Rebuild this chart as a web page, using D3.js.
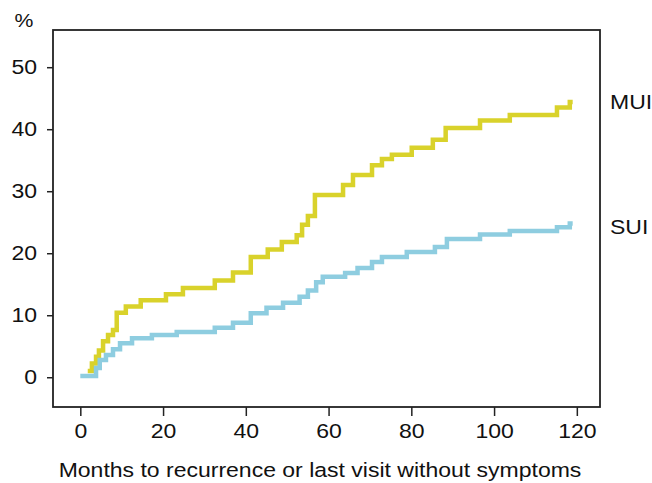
<!DOCTYPE html>
<html>
<head>
<meta charset="utf-8">
<script src="https://cdn.jsdelivr.net/npm/d3@7"></script>
<style>
  body { margin: 0; background: #fff; }
  svg text { font-family: "Liberation Sans", Arial, sans-serif; fill: #111; }
</style>
</head>
<body>
<svg id="chart"></svg>
<script>
// Step times (months) and cumulative recurrence (%) for each group
const muiMonths = [1.8, 2.8, 3.8, 4.5, 5.5, 6.7, 7.9, 8.8, 11.0, 14.6, 20.7, 24.8, 32.5, 36.9, 41.2, 45.3, 48.7, 52.3, 53.6, 55.0, 56.7, 63.5, 65.9, 70.5, 72.9, 75.3, 80.1, 85.2, 88.3, 96.6, 103.8, 115.2, 118.3, 119.0];
const muiValues = [1.0, 2.2, 3.3, 4.3, 5.8, 6.8, 7.6, 10.4, 11.4, 12.4, 13.4, 14.4, 15.6, 16.9, 19.4, 20.6, 21.8, 22.9, 24.6, 26.0, 29.4, 31.0, 32.6, 34.2, 35.2, 35.9, 37.0, 38.3, 40.2, 41.4, 42.3, 43.5, 44.4, 44.4];

const suiMonths = [0, 3.8, 4.7, 6.2, 7.9, 9.6, 12.5, 17.3, 23.3, 32.5, 36.9, 41.2, 45.0, 49.0, 53.0, 55.0, 57.0, 58.6, 64.0, 67.0, 70.5, 72.9, 78.9, 85.7, 88.6, 96.6, 103.8, 115.2, 118.3, 119.0];
const suiValues = [0.2, 1.5, 2.8, 3.6, 4.5, 5.5, 6.3, 6.8, 7.3, 8.0, 8.8, 10.3, 11.2, 12.0, 13.0, 14.0, 15.3, 16.2, 16.8, 17.6, 18.6, 19.4, 20.2, 21.0, 22.3, 23.0, 23.6, 24.2, 24.8, 24.8];

const xTicks = [0, 20, 40, 60, 80, 100, 120];
const yTicks = [0, 10, 20, 30, 40, 50];

const series = [
  { name: "MUI", months: muiMonths, values: muiValues, color: "#d9d22b" },
  { name: "SUI", months: suiMonths, values: suiValues, color: "#8ecde0" }
];

const width = 652;
const height = 483;
const margin = { top: 30, right: 52, bottom: 76, left: 53 };
const fontSize = "19.5px";
const stretch = 1.18; // the lettering in the original is set wide

const svg = d3.select("#chart")
  .attr("width", width)
  .attr("height", height);

const xScale = d3.scaleLinear()
  .domain([-6.6, 125.6])
  .range([margin.left, width - margin.right]);

const yScale = d3.scaleLinear()
  .domain([-4.8, 56])
  .range([height - margin.bottom, margin.top]);

// Step curves
const line = d3.line()
  .x(d => xScale(d[0]))
  .y(d => yScale(d[1]))
  .curve(d3.curveStepAfter);

series.forEach(function(s) {
  const pts = s.months.map((m, i) => [m, s.values[i]]);
  svg.append("path")
    .datum(pts)
    .attr("fill", "none")
    .attr("stroke", s.color)
    .attr("stroke-width", 4.5)
    .attr("d", line);
});

// Plot frame
svg.append("rect")
  .attr("x", margin.left)
  .attr("y", margin.top)
  .attr("width", width - margin.left - margin.right)
  .attr("height", height - margin.top - margin.bottom)
  .attr("fill", "none")
  .attr("stroke", "#222")
  .attr("stroke-width", 1.8);

// x-axis
const xAxis = svg.append("g")
  .attr("transform", `translate(0,${height - margin.bottom})`)
  .call(d3.axisBottom(xScale).tickValues(xTicks).tickSize(9).tickPadding(8));
xAxis.select(".domain").remove();
xAxis.selectAll("line").attr("stroke", "#222").attr("stroke-width", 1.5);
xAxis.selectAll("text")
  .attr("font-family", null)
  .style("font-size", fontSize)
  .attr("transform", `scale(${stretch},1)`);

// y-axis
const yAxis = svg.append("g")
  .attr("transform", `translate(${margin.left},0)`)
  .call(d3.axisLeft(yScale).tickValues(yTicks).tickSize(6).tickPadding(10));
yAxis.select(".domain").remove();
yAxis.selectAll("line").attr("stroke", "#222").attr("stroke-width", 1.5);
yAxis.selectAll("text")
  .attr("font-family", null)
  .attr("x", 0)
  .style("font-size", fontSize)
  .attr("transform", `translate(-16,0) scale(${stretch},1)`);

// Unit label
svg.append("text")
  .attr("transform", `translate(24,27) scale(${stretch},1)`)
  .attr("text-anchor", "middle")
  .style("font-size", "18px")
  .text("%");

// Series labels at the right
svg.append("text")
  .attr("transform", `translate(610,${yScale(44.4) + 7}) scale(${stretch},1)`)
  .style("font-size", fontSize)
  .text("MUI");

svg.append("text")
  .attr("transform", `translate(610,${yScale(24.8) + 10.5}) scale(${stretch},1)`)
  .style("font-size", fontSize)
  .text("SUI");

// x-axis label
svg.append("text")
  .attr("transform", `translate(320,477) scale(${stretch},1)`)
  .attr("text-anchor", "middle")
  .style("font-size", fontSize)
  .text("Months to recurrence or last visit without symptoms");
</script>
</body>
</html>
